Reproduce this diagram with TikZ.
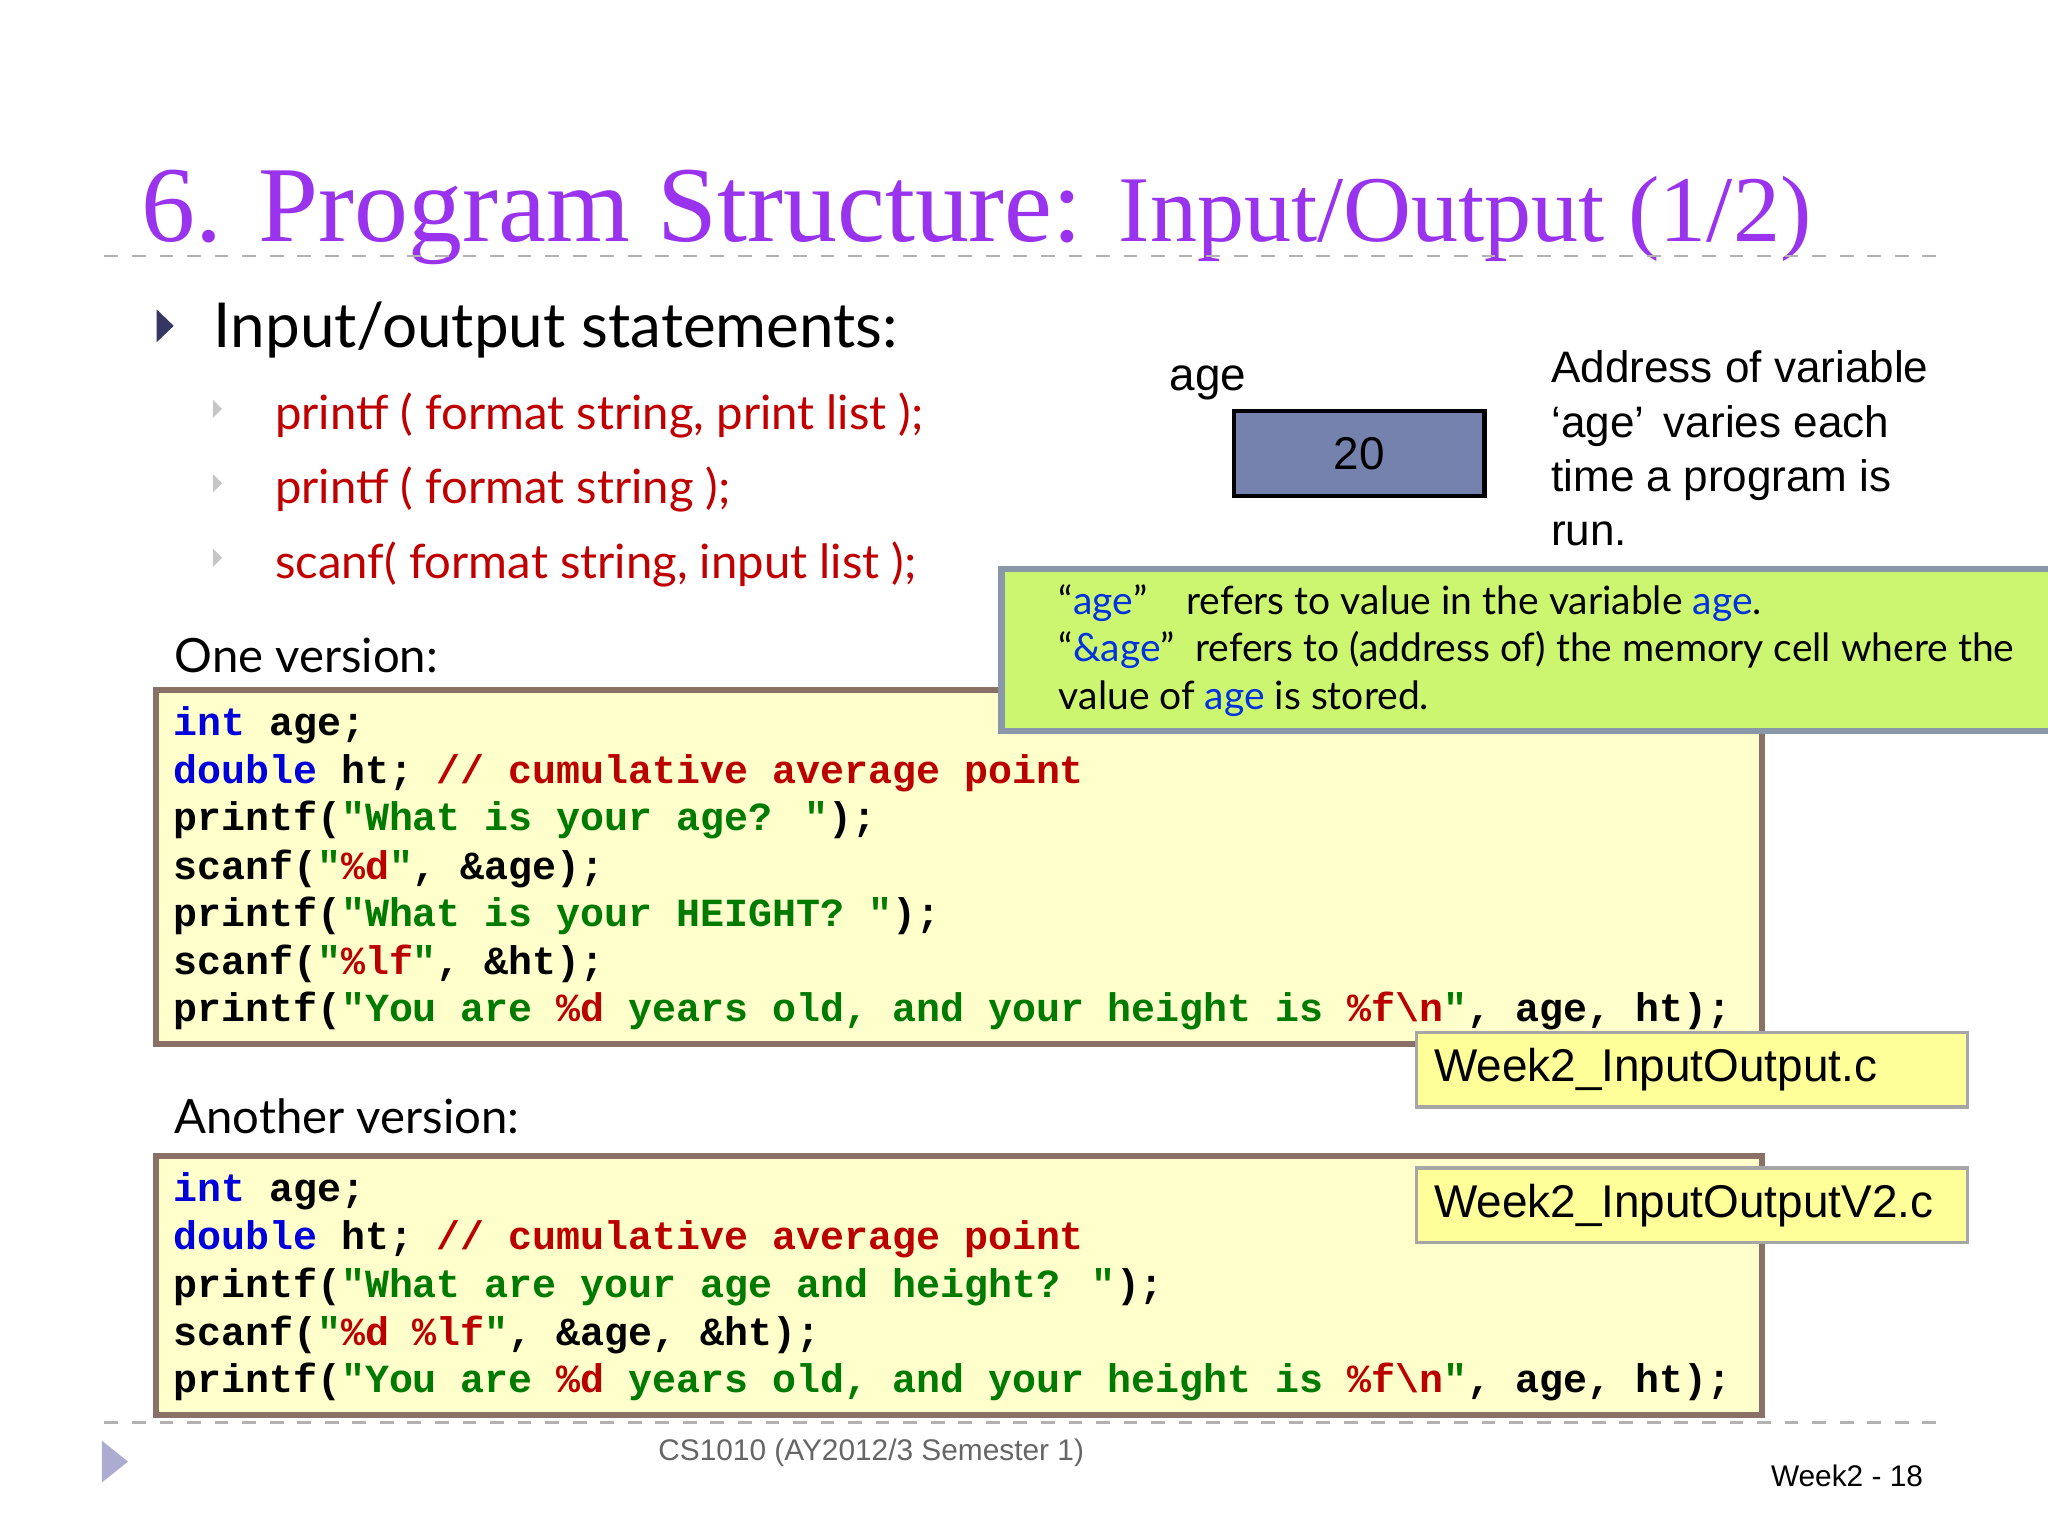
\documentclass[tikz,border=0pt]{standalone}
\usepackage{fontspec}
\setmainfont{Liberation Serif}
\newfontfamily\gill{Lato}
\newfontfamily\arial{Liberation Sans}
\newfontfamily\cour{Liberation Mono}
\definecolor{ttl}{HTML}{9933EE}
\definecolor{redt}{HTML}{C00000}
\definecolor{kwb}{HTML}{0000DD}
\definecolor{strg}{HTML}{007A00}
\definecolor{cmt}{HTML}{BB0000}
\definecolor{codefill}{HTML}{FFFFCC}
\definecolor{codeborder}{HTML}{8B7068}
\definecolor{greenfill}{HTML}{CCF570}
\definecolor{greenborder}{HTML}{8898A8}
\definecolor{agefill}{HTML}{7682AE}
\definecolor{filefill}{HTML}{FFFF99}
\definecolor{ageblue}{HTML}{0033DD}
\newcommand\kw[1]{\textcolor{kwb}{#1}}
\newcommand\st[1]{\textcolor{strg}{#1}}
\newcommand\cm[1]{\textcolor{cmt}{#1}}
\begin{document}
\begin{tikzpicture}[x=1cm,y=-1cm,
  codeline/.style={anchor=west,inner sep=0pt,font=\cour\bfseries\fontsize{8.7}{10}\selectfont},
  codebox/.style={draw=codeborder,line width=1.3pt,fill=codefill},
  filebox/.style={draw=gray!70,line width=0.8pt,fill=filefill,anchor=north west,minimum width=4.22cm,minimum height=0.57cm,inner sep=0pt,text width=3.95cm,font=\arial\fontsize{10}{12}\selectfont},
  redbul/.style={anchor=west,inner sep=0pt,text=redt,font=\gill\fontsize{10.3}{12}\selectfont},
  plain/.style={anchor=west,inner sep=0pt,font=\gill\fontsize{10.3}{12}\selectfont},
  sbul/.style={fill=gray!45,draw=none},
  dline/.style={draw=gray!60,dashed,line width=0.6pt}]
\useasboundingbox (0,0) rectangle (15.68,11.76);
% title
\node[anchor=base west,inner sep=0pt,text=ttl] (title) at (1.08,1.85) {\fontsize{23.5}{26}\selectfont 6. Program Structure: \fontsize{20.5}{23}\selectfont Input/Output (1/2)};
\draw[dline] (0.8,1.96) coordinate (d1a) -- (14.9,1.96) coordinate (d1b);
% main bullet
\fill[fill=gray!70!blue!60!black] (1.2,2.37) -- (1.33,2.495) -- (1.2,2.62) -- cycle;
\node[plain,font=\gill\fontsize{13.5}{16}\selectfont] (io) at (1.63,2.53) {Input/output statements:};
\foreach \yy in {3.13,3.70,4.27}{\fill[sbul] (1.63,\yy-0.07) -- (1.70,\yy) -- (1.63,\yy+0.07) -- cycle;}
\node[redbul] (b1) at (2.10,3.18) {printf ( format string, print list );};
\node[redbul] (b2) at (2.10,3.75) {printf ( format string );};
\node[redbul] (b3) at (2.10,4.32) {scanf( format string, input list );};
\node[plain] (one) at (1.33,5.02) {One version:};
\node[plain] (another) at (1.33,8.55) {Another version:};
% code box 1
\node[codebox,anchor=north west,minimum width=12.30cm,minimum height=2.71cm,inner sep=0pt] (code1) at (1.17,5.26) {};
\node[codeline] (c11) at (1.32,5.55) {\kw{int} age;};
\node[codeline] (c12) at (1.32,5.92) {\kw{double} ht; \cm{// cumulative average point}};
\node[codeline] (c13) at (1.32,6.28) {printf(\st{"What is your age? "});};
\node[codeline] (c14) at (1.32,6.65) {scanf(\st{"}\cm{\%d}\st{"}, \&age);};
\node[codeline] (c15) at (1.32,7.01) {printf(\st{"What is your HEIGHT? "});};
\node[codeline] (c16) at (1.32,7.38) {scanf(\st{"}\cm{\%lf}\st{"}, \&ht);};
\node[codeline] (c17) at (1.32,7.74) {printf(\st{"You are}\ \cm{\%d}\ \st{years old, and your height is}\ \cm{\%f\textbackslash n}\st{"}, age, ht);};
% code box 2
\node[codebox,anchor=north west,minimum width=12.30cm,minimum height=1.98cm,inner sep=0pt] (code2) at (1.17,8.83) {};
\node[codeline] (c21) at (1.32,9.12) {\kw{int} age;};
\node[codeline] (c22) at (1.32,9.49) {\kw{double} ht; \cm{// cumulative average point}};
\node[codeline] (c23) at (1.32,9.85) {printf(\st{"What are your age and height? "});};
\node[codeline] (c24) at (1.32,10.22) {scanf(\st{"}\cm{\%d \%lf}\st{"}, \&age, \&ht);};
\node[codeline] (c25) at (1.32,10.58) {printf(\st{"You are}\ \cm{\%d}\ \st{years old, and your height is}\ \cm{\%f\textbackslash n}\st{"}, age, ht);};
% file boxes
\node[filebox] (f1) at (10.83,7.89) {Week2\_InputOutput.c};
\node[filebox] (f2) at (10.83,8.93) {Week2\_InputOutputV2.c};
% green box
\node[draw=greenborder,line width=1.5pt,fill=greenfill,anchor=north west,minimum width=8.2cm,minimum height=1.24cm,inner sep=0pt] (green) at (7.64,4.33) {};
\node[plain,font=\gill\fontsize{8.5}{10.3}\selectfont,align=left,anchor=north west] (gt) at (8.10,4.47) {“\textcolor{ageblue}{age}”\quad refers to value in the variable \textcolor{ageblue}{age}.\\“\textcolor{ageblue}{\&age}”\ \ refers to (address of) the memory cell where the\\value of \textcolor{ageblue}{age} is stored.};
% age variable
\node[anchor=west,inner sep=0pt,font=\arial\fontsize{10}{12}\selectfont] (agel) at (8.95,2.93) {age};
\node[draw=black,line width=1pt,fill=agefill,anchor=north west,minimum width=1.92cm,minimum height=0.65cm,inner sep=0pt,font=\arial\fontsize{10}{12}\selectfont] (agebox) at (9.43,3.13) {20};
\node[anchor=north west,inner sep=0pt,align=left,font=\arial\fontsize{9.6}{11.8}\selectfont] (addr) at (11.87,2.68) {Address of variable\\‘age’\, varies each\\time a program is\\run.};
% footer
\draw[dline] (0.8,10.89) coordinate (d2a) -- (14.9,10.89) coordinate (d2b);
\fill[blue!30!gray!50] (0.78,11.03) -- (0.98,11.19) -- (0.78,11.35) -- cycle;
\node[inner sep=0pt,text=gray!80!black,font=\arial\fontsize{6.5}{8}\selectfont] (foot) at (6.67,11.12) {CS1010 (AY2012/3 Semester 1)};
\node[anchor=east,inner sep=0pt,font=\arial\fontsize{6.5}{8}\selectfont] (pg) at (14.73,11.30) {Week2 - 18};
\end{tikzpicture}
\end{document}
